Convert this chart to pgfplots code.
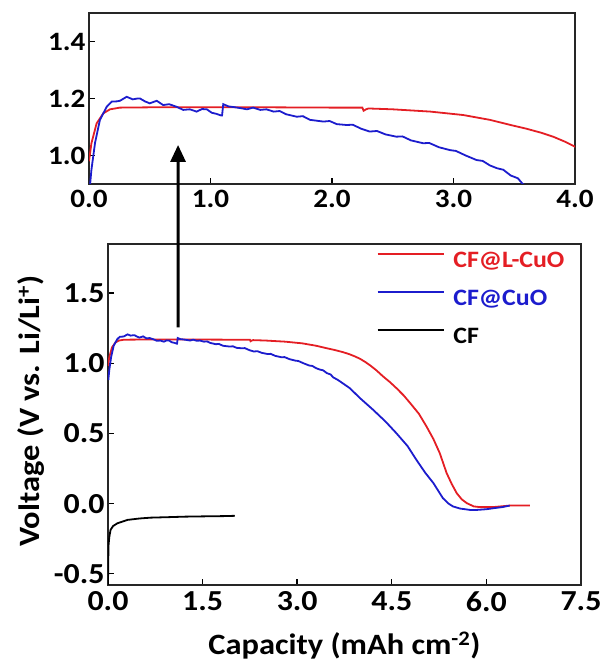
\documentclass[border=0pt]{standalone}
\usepackage{fontspec}
\setmainfont{Carlito}[FakeStretch=1.1]
\usepackage{pgfplots}
\pgfplotsset{compat=1.18}
\usetikzlibrary{arrows.meta}
\definecolor{cred}{RGB}{228,30,36}
\definecolor{cblue}{RGB}{28,28,205}

\pgfplotstableread{
x y
0.000 0.980
0.020 1.043
0.063 1.113
0.118 1.148
0.173 1.162
0.255 1.168
0.500 1.169
1.000 1.169
1.500 1.169
2.000 1.168
2.250 1.168
2.260 1.157
2.280 1.162
2.300 1.165
2.500 1.162
2.810 1.154
3.080 1.142
3.300 1.125
3.470 1.107
3.600 1.094
3.720 1.080
3.820 1.066
3.920 1.048
4.000 1.031
4.080 1.009
4.160 0.984
4.260 0.948
4.360 0.907
4.470 0.866
4.580 0.820
4.690 0.770
4.790 0.717
4.930 0.640
5.050 0.550
5.160 0.460
5.260 0.360
5.370 0.217
5.450 0.140
5.530 0.074
5.610 0.030
5.690 0.003
5.800 -0.020
5.900 -0.025
6.100 -0.025
6.370 -0.014
6.690 -0.014
}\redtab

\pgfplotstableread{
x y
0.005 0.880
0.020 0.950
0.050 1.045
0.090 1.125
0.146 1.171
0.187 1.189
0.230 1.190
0.255 1.192
0.310 1.206
0.360 1.197
0.400 1.200
0.420 1.200
0.460 1.190
0.500 1.183
0.557 1.192
0.610 1.177
0.660 1.180
0.720 1.171
0.776 1.160
0.830 1.162
0.886 1.154
0.930 1.163
0.970 1.162
1.010 1.150
1.050 1.146
1.090 1.140
1.095 1.140
1.105 1.180
1.150 1.172
1.190 1.170
1.250 1.166
1.300 1.162
1.350 1.168
1.410 1.160
1.460 1.162
1.520 1.154
1.570 1.156
1.620 1.145
1.710 1.136
1.760 1.138
1.820 1.125
1.930 1.119
1.980 1.121
2.040 1.110
2.120 1.107
2.170 1.108
2.240 1.094
2.310 1.084
2.370 1.086
2.440 1.074
2.530 1.066
2.580 1.067
2.650 1.053
2.750 1.043
2.800 1.044
2.880 1.029
2.970 1.019
3.020 1.016
3.100 1.000
3.190 0.984
3.240 0.981
3.300 0.965
3.360 0.955
3.410 0.950
3.470 0.930
3.530 0.920
3.570 0.900
3.650 0.880
3.830 0.824
4.000 0.750
4.200 0.670
4.400 0.585
4.570 0.503
4.750 0.410
4.890 0.312
5.030 0.220
5.160 0.146
5.310 0.039
5.400 0.000
5.470 -0.020
5.580 -0.035
5.740 -0.045
5.850 -0.045
6.000 -0.040
6.110 -0.033
6.250 -0.025
6.370 -0.014
}\bluetab

\pgfplotstableread{
x y
0.000 -0.580
0.003 -0.450
0.008 -0.300
0.020 -0.240
0.040 -0.188
0.080 -0.160
0.150 -0.140
0.310 -0.116
0.500 -0.106
0.680 -0.100
1.000 -0.096
1.210 -0.093
1.500 -0.091
1.840 -0.089
2.010 -0.087
}\blacktab

\begin{document}
\begin{tikzpicture}[x=1pt,y=1pt]
\pgfplotsset{
  mystyle/.style={
    scale only axis,
    axis line style={line width=1.7pt, black!85},
    tick align=inside, xtick pos=bottom, ytick pos=left,
    major tick length=6pt,
    tick style={line width=1.4pt, black},
    /pgf/number format/assume math mode=true,
  }
}
% top inset
\begin{axis}[mystyle, at={(89pt,486pt)}, anchor=south west,
  width=486pt, height=171pt,
  xmin=0, xmax=4, ymin=0.9, ymax=1.5,
  xtick={0,1,2,3,4}, xticklabels={0.0,1.0,2.0,3.0,4.0},
  ytick={1.0,1.2,1.4}, yticklabels={1.0,1.2,1.4},
  every tick label/.append style={font=\bfseries\fontsize{26.5}{26.5}\selectfont},
  xticklabel style={yshift=-3pt},
]
\addplot[cred, line width=1.8pt] table[x=x,y=y] {\redtab};
\addplot[cblue, line width=1.8pt] table[x=x,y=y] {\bluetab};
\coordinate (atop) at (axis cs:0.733,1.037);
\end{axis}
% main
\begin{axis}[mystyle, at={(108pt,85pt)}, anchor=south west,
  width=473pt, height=341pt,
  xmin=0, xmax=7.5, ymin=-0.58, ymax=1.85,
  xtick={0,1.5,3,4.5,6,7.5}, xticklabels={0.0,1.5,3.0,4.5,6.0,7.5},
  ytick={-0.5,0,0.5,1,1.5}, yticklabels={-0.5,0.0,0.5,1.0,1.5},
  every tick label/.append style={font=\bfseries\fontsize{29}{29}\selectfont},
  xticklabel style={yshift=-3pt},
  xlabel={Capacity (mAh cm\textsuperscript{-2})},
  ylabel={Voltage (V vs. Li/Li\textsuperscript{+})},
  label style={font=\bfseries\fontsize{29.5}{29.5}\selectfont},
  xlabel style={at={(axis description cs:0.5,-0.178)}, anchor=center},
  ylabel style={at={(axis description cs:-0.163,0.51)}, anchor=center},
  legend cell align=left,
  legend image code/.code={\draw[#1] (0pt,7pt) -- (66pt,7pt);},
  legend style={draw=none, fill=none, inner sep=0pt, outer sep=0pt,
    at={(axis description cs:0.568,0.985)}, anchor=north west,
    row sep=14pt, column sep=9pt,
    font=\bfseries\fontsize{23.5}{23.5}\selectfont,
    nodes={inner sep=0pt, text height=18pt, text depth=6pt}},
]
\addplot[cred, line width=1.8pt] table[x=x,y=y] {\redtab};
\addlegendentry{\textcolor{cred}{CF@L-CuO}}
\addplot[cblue, line width=1.8pt] table[x=x,y=y] {\bluetab};
\addlegendentry{\textcolor{cblue}{CF@CuO}}
\addplot[black, line width=1.8pt] table[x=x,y=y] {\blacktab};
\addlegendentry{CF}
\coordinate (abot) at (axis cs:1.11,1.255);
\end{axis}
\draw[line width=3pt, -{Triangle[length=17pt,width=15pt]}] (abot) -- (atop);
\pgfresetboundingbox
\path[use as bounding box] (0pt,0pt) rectangle (606pt,670pt);
\end{tikzpicture}
\end{document}
